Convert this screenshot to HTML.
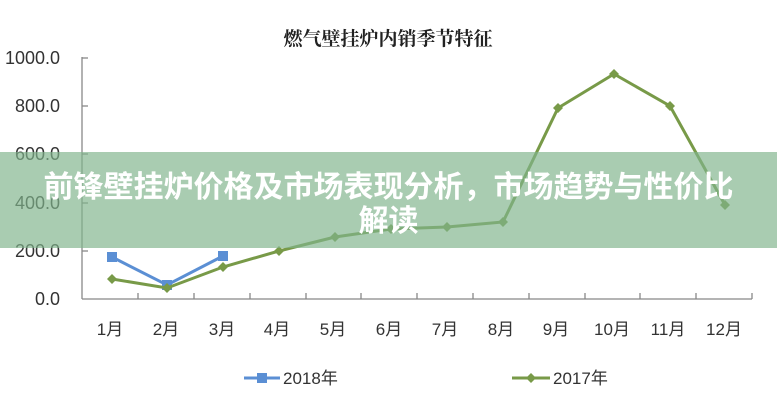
<!DOCTYPE html>
<html><head><meta charset="utf-8"><style>
html,body{margin:0;padding:0;background:#fff;}
body{width:777px;height:400px;position:relative;overflow:hidden;font-family:"Liberation Sans","Noto Sans CJK SC",sans-serif;}
.banner{position:absolute;left:0;top:152px;width:777px;height:96px;background:rgba(128,180,140,0.68);}
.bt{position:absolute;left:0;width:777px;text-align:center;color:#fff;font-weight:bold;font-size:30px;font-family:"Noto Sans CJK SC",sans-serif;line-height:34px;white-space:nowrap;}
</style></head><body>
<svg width="777" height="400" style="position:absolute;left:0;top:0" font-family="Liberation Sans, Noto Sans CJK SC, sans-serif">
<text x="388" y="45" text-anchor="middle" font-family="Noto Serif CJK SC, serif" font-weight="bold" font-size="19" fill="#222">燃气壁挂炉内销季节特征</text>
<g stroke="#888" stroke-width="1.3" fill="none">
<line x1="82" y1="57" x2="82" y2="299"/>
<line x1="82" y1="299" x2="752" y2="299"/>
<line x1="82" y1="58" x2="88" y2="58"/><line x1="82" y1="106" x2="88" y2="106"/><line x1="82" y1="154" x2="88" y2="154"/><line x1="82" y1="203" x2="88" y2="203"/><line x1="82" y1="251" x2="88" y2="251"/>
<line x1="138" y1="299" x2="138" y2="293"/><line x1="194" y1="299" x2="194" y2="293"/><line x1="250" y1="299" x2="250" y2="293"/><line x1="306" y1="299" x2="306" y2="293"/><line x1="361" y1="299" x2="361" y2="293"/><line x1="417" y1="299" x2="417" y2="293"/><line x1="473" y1="299" x2="473" y2="293"/><line x1="529" y1="299" x2="529" y2="293"/><line x1="585" y1="299" x2="585" y2="293"/><line x1="640" y1="299" x2="640" y2="293"/><line x1="696" y1="299" x2="696" y2="293"/><line x1="752" y1="299" x2="752" y2="293"/>
</g>
<g font-size="18" fill="#333" text-anchor="end">
<text x="60" y="64">1000.0</text><text x="60" y="112">800.0</text><text x="60" y="160">600.0</text><text x="60" y="209">400.0</text><text x="60" y="257">200.0</text><text x="60" y="305">0.0</text>
</g>
<g font-size="17" fill="#333" text-anchor="middle">
<text x="110" y="335">1月</text><text x="166" y="335">2月</text><text x="222" y="335">3月</text><text x="277" y="335">4月</text><text x="333" y="335">5月</text><text x="389" y="335">6月</text><text x="445" y="335">7月</text><text x="501" y="335">8月</text><text x="556" y="335">9月</text><text x="612" y="335">10月</text><text x="668" y="335">11月</text><text x="724" y="335">12月</text>
</g>
<polyline points="112,257 167,285 223,256" fill="none" stroke="#5b8fd4" stroke-width="3"/>
<g fill="#5b8fd4"><rect x="107" y="252" width="10" height="10"/><rect x="162" y="280" width="10" height="10"/><rect x="218" y="251" width="10" height="10"/></g>
<polyline points="112,279 167,288 223,267 279,251 335,237 391,229 447,227 503,222 558,108 614,74 670,106 725,205" fill="none" stroke="#789a48" stroke-width="3"/>
<g fill="#789a48">
<path d="M112,274l5,5l-5,5l-5,-5z"/><path d="M167,283l5,5l-5,5l-5,-5z"/><path d="M223,262l5,5l-5,5l-5,-5z"/><path d="M279,246l5,5l-5,5l-5,-5z"/><path d="M335,232l5,5l-5,5l-5,-5z"/><path d="M391,224l5,5l-5,5l-5,-5z"/><path d="M447,222l5,5l-5,5l-5,-5z"/><path d="M503,217l5,5l-5,5l-5,-5z"/><path d="M558,103l5,5l-5,5l-5,-5z"/><path d="M614,69l5,5l-5,5l-5,-5z"/><path d="M670,101l5,5l-5,5l-5,-5z"/><path d="M725,200l5,5l-5,5l-5,-5z"/>
</g>
<line x1="244" y1="378" x2="280" y2="378" stroke="#5b8fd4" stroke-width="3"/><rect x="257" y="373" width="10" height="10" fill="#5b8fd4"/>
<text x="283" y="384" font-size="17" fill="#333">2018年</text>
<line x1="512" y1="378" x2="550" y2="378" stroke="#789a48" stroke-width="3"/><path d="M531,373l5,5l-5,5l-5,-5z" fill="#789a48"/>
<text x="553" y="384" font-size="17" fill="#333">2017年</text>
</svg>
<div class="banner"></div>
<div class="bt" style="top:167px">前锋壁挂炉价格及市场表现分析，市场趋势与性价比</div>
<div class="bt" style="top:201px">解读</div>
</body></html>
